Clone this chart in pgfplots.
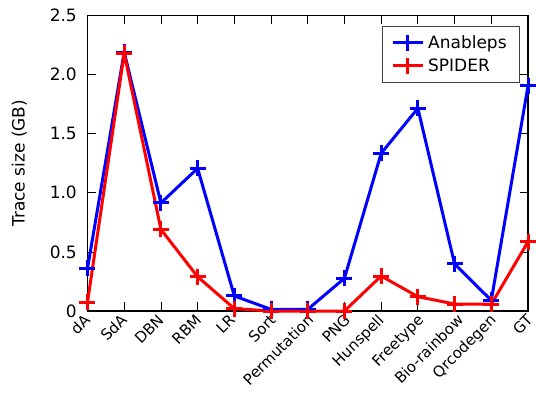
\documentclass[border=0pt]{standalone}
\usepackage{fontspec}
\setmainfont{DejaVu Sans}
\usepackage{graphicx}
\usepackage{pgfplots}
\pgfplotsset{compat=1.18}
\newcommand{\xl}[2]{\rotatebox{45}{\vphantom{dg}#2}\kern-#1bp}
\begin{document}
\begin{tikzpicture}[x=1bp,y=1bp]
\begin{axis}[
  scale only axis,
  width=440.5bp, height=295.5bp,
  xmin=0, xmax=12, ymin=0, ymax=2.5,
  xtick={0,...,12},
  xticklabels={\xl{6}{dA},\xl{6}{SdA},\xl{6}{DBN},\xl{7}{RBM},\xl{4}{LR},\xl{8}{Sort},\xl{9}{Permutation},\xl{9}{PNG},\xl{6}{Hunspell},\xl{9}{Freetype},\xl{12}{Bio-rainbow},\xl{8}{Qrcodegen},\xl{8}{GT}},
  xticklabel style={anchor=north east, inner sep=0pt, yshift=-2bp, font=\fontsize{15bp}{18bp}\selectfont},
  ytick={0,0.5,1.0,1.5,2.0,2.5},
  yticklabels={0,0.5,1.0,1.5,2.0,2.5},
  yticklabel style={anchor=east, inner sep=0pt, xshift=-10.5bp, font=\fontsize{17bp}{20bp}\selectfont},
  /pgf/number format/assume math mode=true,
  ylabel={Trace size (GB)},
  every axis y label/.style={at={(axis description cs:-0.1373,0.5)}, rotate=90, anchor=south, inner sep=0pt, font=\fontsize{17bp}{20bp}\selectfont},
  tick align=inside,
  major tick length=8.5bp,
  tick style={black, line width=0.8bp},
  axis line style={black, line width=1.1bp},
  clip=false,
  legend style={at={(0.982,0.966)}, anchor=north east, draw=black!75, line width=0.9bp,
    row sep=5bp, inner xsep=9bp, inner ysep=7.5bp,
    nodes={inner xsep=4bp},
    font=\fontsize{17bp}{20bp}\selectfont},
  legend cell align=left,
  legend image code/.code={\draw[mark repeat=2,mark phase=2,#1] plot coordinates {(0bp,0bp) (15bp,0bp) (30bp,0bp)};},
]
\addplot[blue, line width=3bp, mark=+, mark size=8bp, mark options={line width=3bp}] coordinates {
(0,0.361) (1,2.19) (2,0.914) (3,1.207) (4,0.127) (5,0.014) (6,0.014) (7,0.277) (8,1.334) (9,1.715) (10,0.398) (11,0.09) (12,1.904)};
\addlegendentry{Anableps}
\addplot[red, line width=3bp, mark=+, mark size=8bp, mark options={line width=3bp}] coordinates {
(0,0.074) (1,2.18) (2,0.69) (3,0.29) (4,0.02) (5,0.0) (6,0.0) (7,0.0) (8,0.296) (9,0.121) (10,0.059) (11,0.057) (12,0.586)};
\addlegendentry{SPIDER}
\end{axis}
\pgfresetboundingbox
\path (current axis.south west) ++(-87.5bp,-85bp) rectangle ++(536bp,396bp);
\end{tikzpicture}
\end{document}
